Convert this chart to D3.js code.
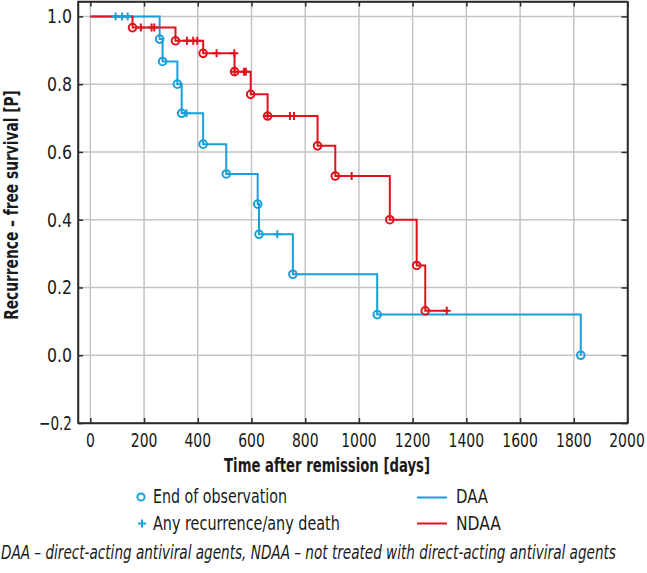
<!DOCTYPE html>
<html><head><meta charset="utf-8">
<script src="https://cdn.jsdelivr.net/npm/d3@7"></script>
<style>
body{margin:0;background:#fff}
svg text{font-family:"Liberation Sans Narrow","Arial Narrow","DejaVu Sans Condensed","Liberation Sans",sans-serif;font-stretch:condensed;fill:#1a1a1a}
</style></head><body>
<svg id="c" width="647" height="573"></svg>
<script>
// ---- data ----
const xTicks = [0, 200, 400, 600, 800, 1000, 1200, 1400, 1600, 1800, 2000];
const yTicks = [-0.2, 0.0, 0.2, 0.4, 0.6, 0.8, 1.0];
const yTickLabels = ["\u22120.2", "0.0", "0.2", "0.4", "0.6", "0.8", "1.0"];
const seriesNames = ["DAA", "NDAA"];
const seriesColors = ["#1a9fda", "#e0121c"];

const daaEventTimes = [258, 269, 324, 340, 420, 506, 623, 628, 754, 1068, 1826];
const daaEventSurv  = [0.933, 0.867, 0.800, 0.714, 0.623, 0.535, 0.446, 0.357, 0.239, 0.120, 0.000];
const daaCensorTimes = [94, 118, 139, 358, 696];

const ndaaEventTimes = [157, 317, 420, 537, 597, 660, 846, 912, 1115, 1215, 1247];
const ndaaEventSurv  = [0.967, 0.928, 0.891, 0.837, 0.770, 0.706, 0.618, 0.529, 0.400, 0.265, 0.131];
const ndaaCensorTimes = [188, 228, 238, 360, 383, 398, 470, 536, 537, 572, 579, 660, 743, 758, 973, 1327];

const legendMarkerLabels = ["End of observation", "Any recurrence/any death"];
const xTitle = "Time after remission [days]";
const yTitle = "Recurrence \u2013 free survival [P]";
const footnote = "DAA \u2013 direct-acting antiviral agents, NDAA \u2013 not treated with direct-acting antiviral agents";

// ---- chart ----
const svg = d3.select("#c");
const L = 78, R = 627.5, T = 1.5, B = 423;
const x = d3.scaleLinear().domain([-46, 2000]).range([L, R]);
const y = d3.scaleLinear().domain([-0.2, 1.044]).range([B, T]);
const FS = 19.5;

// add a text squeezed horizontally to the reference's condensed width
function addText(parent, str, px, py, w, opts = {}) {
  const t = parent.append("text").attr("x", 0).attr("y", 0).attr("font-size", FS)
    .attr("text-anchor", opts.anchor || "start").text(str);
  if (opts.bold) t.attr("font-weight", "bold");
  if (opts.italic) t.attr("font-style", "italic");
  const len = t.node().getComputedTextLength();
  const k = Math.min(1, w / len);
  t.attr("transform", `translate(${px},${py})${opts.rotate ? " rotate(" + opts.rotate + ")" : ""} scale(${k},1)`);
  return t;
}

// grid
const grid = svg.append("g").attr("stroke", "#c4c4c4").attr("stroke-width", 1.5);
xTicks.filter(t => t < 2000).forEach(t => grid.append("line").attr("x1", x(t)).attr("x2", x(t)).attr("y1", T).attr("y2", B));
yTicks.filter(t => t > -0.2).forEach(t => grid.append("line").attr("x1", L).attr("x2", R).attr("y1", y(t)).attr("y2", y(t)));

// axes (box with inward ticks)
const axB = svg.append("g").attr("transform", `translate(0,${B})`).call(d3.axisBottom(x).tickValues(xTicks).tickSizeInner(-5).tickSizeOuter(0).tickFormat(""));
const axT = svg.append("g").attr("transform", `translate(0,${T})`).call(d3.axisTop(x).tickValues(xTicks).tickSizeInner(-5).tickSizeOuter(0).tickFormat(""));
const axL = svg.append("g").attr("transform", `translate(${L},0)`).call(d3.axisLeft(y).tickValues(yTicks).tickSizeInner(-5).tickSizeOuter(0).tickFormat(""));
const axR = svg.append("g").attr("transform", `translate(${R},0)`).call(d3.axisRight(y).tickValues(yTicks).tickSizeInner(-6).tickSizeOuter(0).tickFormat(""));
[axB, axT, axL, axR].forEach(a => {
  a.selectAll("path,line").attr("stroke", "#2a2a2a").attr("stroke-width", 1.5);
  a.selectAll("text").remove();
});
svg.append("rect").attr("x", L).attr("y", T).attr("width", R - L).attr("height", B - T)
  .attr("fill", "none").attr("stroke", "#2a2a2a").attr("stroke-width", 1.5);

// tick labels
const gx = svg.append("g");
xTicks.forEach(d => addText(gx, String(d), Math.min(x(d), 627), 447, String(d).length * 8.9, {anchor: "middle"}));
const gy = svg.append("g");
yTicks.forEach((d, i) => addText(gy, yTickLabels[i], 72, y(d) + 7, d < 0 ? 33 : 25, {anchor: "end"}));

// titles
addText(svg, xTitle, 327, 471.5, 206, {anchor: "middle", bold: true});
addText(svg, yTitle, 18, 205, 230, {anchor: "middle", bold: true, rotate: -90});

// KM curves
const line = d3.line().x(d => x(d[0])).y(d => y(d[1]));
function survAt(evT, evS, t) { let s = 1; evT.forEach((e, i) => { if (e <= t) s = evS[i]; }); return s; }
function stepPts(evT, evS, cT) {
  const pts = [[0, 1]]; let s = 1;
  evT.forEach((t, i) => { pts.push([t, s]); s = evS[i]; pts.push([t, s]); });
  const end = Math.max(evT[evT.length - 1], cT[cT.length - 1]);
  if (end > evT[evT.length - 1]) pts.push([end, s]);
  return pts;
}
const series = [
  {evT: daaEventTimes, evS: daaEventSurv, cT: daaCensorTimes, color: seriesColors[0]},
  {evT: ndaaEventTimes, evS: ndaaEventSurv, cT: ndaaCensorTimes, color: seriesColors[1]}
];
series.forEach(sr => {
  svg.append("path").attr("d", line(stepPts(sr.evT, sr.evS, sr.cT))).attr("fill", "none")
    .attr("stroke", sr.color).attr("stroke-width", 2);
});
const plusPath = (cx, cy, h) => `M${cx - h},${cy}H${cx + h}M${cx},${cy - h}V${cy + h}`;
series.forEach(sr => {
  const g = svg.append("g");
  g.selectAll("circle").data(sr.evT).join("circle")
    .attr("cx", d => x(d)).attr("cy", (d, i) => y(sr.evS[i])).attr("r", 3.8)
    .attr("fill", "none").attr("stroke", sr.color).attr("stroke-width", 2);
  g.selectAll("path").data(sr.cT).join("path")
    .attr("d", d => plusPath(x(d), y(survAt(sr.evT, sr.evS, d)), 4))
    .attr("stroke", sr.color).attr("stroke-width", 2).attr("fill", "none");
});

// legend
svg.append("circle").attr("cx", 141).attr("cy", 497).attr("r", 3.6).attr("fill", "none")
  .attr("stroke", seriesColors[0]).attr("stroke-width", 2);
svg.append("path").attr("d", plusPath(142, 523.5, 4)).attr("stroke", seriesColors[0]).attr("stroke-width", 2);
const legW = [134, 187];
legendMarkerLabels.forEach((t, i) => addText(svg, t, 153, 502.7 + i * 27, legW[i]));
const serW = [32, 45];
seriesNames.forEach((n, i) => {
  svg.append("line").attr("x1", 417).attr("x2", 447).attr("y1", 497.5 + i * 26).attr("y2", 497.5 + i * 26)
    .attr("stroke", seriesColors[i]).attr("stroke-width", 2);
  addText(svg, n, 456, 502.7 + i * 27, serW[i]);
});

// footnote
addText(svg, footnote, 1, 559, 615, {italic: true});
</script>
</body></html>
